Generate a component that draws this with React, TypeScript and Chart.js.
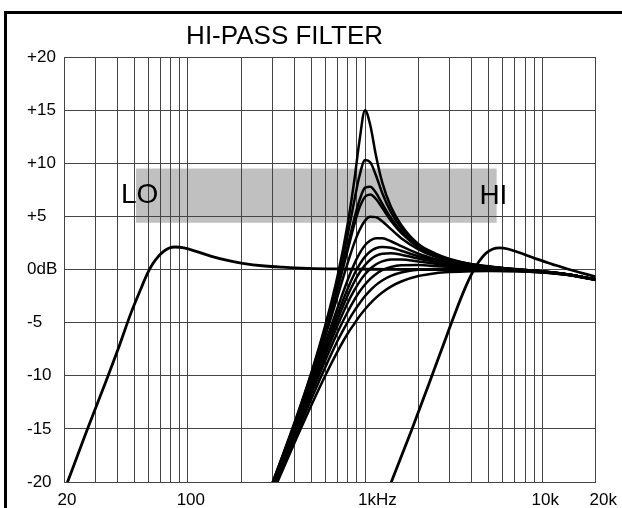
import { useEffect, useRef } from 'react';
import { Chart, registerables } from 'chart.js';

Chart.register(...registerables);

// ---------- text ----------
const TITLE = 'HI-PASS FILTER';
const BAND_TEXT_LO = 'LO';
const BAND_TEXT_HI = 'HI';

// ---------- axes ----------
const X_GRID_FREQ = [20, 30, 40, 50, 60, 70, 80, 90, 100, 200, 300, 400, 500, 600, 700, 800, 900, 1000, 2000, 3000, 4000, 5000, 6000, 7000, 8000, 9000, 10000, 20000];
const X_LABEL_FREQ = [20, 100, 1000, 10000, 20000];
const X_LABEL_TEXT = ['20', '100', '    1kHz', '10k', '  20k'];
const Y_TICK_DB = [-20, -15, -10, -5, 0, 5, 10, 15, 20];
const Y_TICK_TEXT = ['-20', '-15', '-10', '-5', '0dB', '+5', '+10', '+15', '+20'];

// ---------- shaded band (frequency range, dB range) ----------
const BAND_FREQ = [51, 5530];
const BAND_DB = [4.4, 9.5];
const BAND_LABEL_FREQ = [53.5, 5300];

// ---------- LO curve ----------
const LO_FREQ = [17, 20.5, 27, 34, 41, 47.5, 54.5, 59, 63, 68, 73, 78, 85, 95, 109, 136, 170, 204, 272, 340, 476, 680, 950, 1360, 2000, 3000, 5000, 7000, 10000, 14000, 20000];
const LO_DB = [-23.75, -20.4, -15.1, -10.8, -7.2, -4.2, -1.76, -0.42, 0.46, 1.21, 1.7, 2.0, 2.12, 2.04, 1.76, 1.24, 0.83, 0.58, 0.33, 0.22, 0.11, 0.05, 0.03, 0.01, 0.0, 0.0, -0.07, -0.13, -0.26, -0.5, -0.97];

// ---------- HI curve ----------
const HI_FREQ = [1145, 1374, 1832, 2290, 2748, 3206, 3664, 3985, 4259, 4580, 4900, 5267, 5725, 6412, 7328, 9160, 11450, 13740, 20000];
const HI_DB = [-23.75, -20.44, -15.1, -10.8, -7.22, -4.21, -1.78, -0.46, 0.41, 1.15, 1.63, 1.93, 2.03, 1.93, 1.62, 1.02, 0.49, 0.07, -0.69];

// ---------- resonance family around 1 kHz ----------
const MID_FREQ = [250, 300, 400, 500, 600, 700, 800, 870, 930, 1000, 1070, 1150, 1250, 1400, 1600, 2000, 2500, 3000, 4000, 5000, 7000, 10000, 14000, 20000];
const MID_PEAK_15 = [-23.5, -20.1, -14.4, -9.6, -5.1, -0.6, 4.4, 8.4, 12.1, 15.0, 13.6, 10.8, 8.2, 5.9, 4.2, 2.4, 1.5, 1.0, 0.5, 0.3, 0.0, -0.2, -0.5, -0.95];
const MID_PEAK_10 = [-23.6, -20.1, -14.5, -9.7, -5.3, -1.05, 3.35, 6.5, 8.8, 10.3, 10.1, 8.9, 7.2, 5.4, 3.9, 2.3, 1.4, 0.95, 0.5, 0.26, 0.04, -0.18, -0.46, -0.95];
const MID_PEAK_8 = [-23.6, -20.2, -14.6, -9.9, -5.6, -1.6, 2.3, 4.8, 6.5, 7.7, 7.8, 7.25, 6.2, 4.85, 3.6, 2.2, 1.35, 0.9, 0.47, 0.25, 0.03, -0.18, -0.46, -0.95];
const MID_PEAK_7 = [-23.6, -20.2, -14.6, -9.9, -5.7, -1.8, 1.9, 4.25, 5.8, 6.85, 7.07, 6.66, 5.8, 4.6, 3.45, 2.1, 1.3, 0.9, 0.46, 0.25, 0.03, -0.18, -0.46, -0.95];
const MID_PEAK_5 = [-23.6, -20.3, -14.7, -10.2, -6.15, -2.5, 0.67, 2.5, 3.7, 4.6, 4.97, 4.93, 4.55, 3.8, 2.95, 1.9, 1.2, 0.8, 0.41, 0.22, 0.01, -0.19, -0.47, -0.95];
const MID_PEAK_3 = [-23.7, -20.4, -15.0, -10.6, -6.8, -3.6, -0.94, 0.53, 1.5, 2.28, 2.73, 2.95, 2.94, 2.66, 2.2, 1.48, 0.97, 0.66, 0.34, 0.18, -0.01, -0.2, -0.47, -0.95];
const MID_PEAK_2 = [-23.75, -20.4, -15.1, -10.8, -7.2, -4.2, -1.76, -0.42, 0.46, 1.21, 1.7, 2.0, 2.12, 2.04, 1.76, 1.24, 0.83, 0.56, 0.29, 0.15, -0.02, -0.2, -0.48, -0.95];
const MID_PEAK_1_5 = [-23.8, -20.5, -15.2, -11.0, -7.5, -4.7, -2.4, -1.15, -0.31, 0.42, 0.92, 1.28, 1.49, 1.53, 1.39, 1.03, 0.7, 0.48, 0.25, 0.12, -0.04, -0.2, -0.48, -0.95];
const MID_PEAK_1 = [-23.85, -20.6, -15.4, -11.3, -7.95, -5.25, -3.1, -1.95, -1.16, -0.45, 0.07, 0.47, 0.76, 0.94, 0.95, 0.76, 0.54, 0.37, 0.19, 0.08, -0.06, -0.21, -0.48, -0.95];
const MID_PEAK_0_4 = [-23.9, -20.7, -15.6, -11.6, -8.45, -5.9, -3.95, -2.86, -2.1, -1.41, -0.88, -0.44, -0.07, 0.24, 0.4, 0.42, 0.33, 0.23, 0.11, 0.03, -0.08, -0.22, -0.49, -0.96];
const MID_FLAT = [-24.0, -20.9, -15.9, -12.1, -9.1, -6.7, -4.9, -3.9, -3.2, -2.5, -1.96, -1.47, -1.03, -0.6, -0.28, -0.03, 0.05, 0.03, 0.0, -0.04, -0.12, -0.26, -0.5, -0.97];
const MID_LOW = [-24.2, -21.1, -16.3, -12.7, -9.9, -7.7, -6.0, -5.1, -4.4, -3.74, -3.19, -2.67, -2.16, -1.61, -1.13, -0.62, -0.35, -0.24, -0.16, -0.14, -0.17, -0.29, -0.52, -0.97];

const FONT = "'Liberation Sans', Arial, Helvetica, sans-serif";
const GRID = '#444';

const decorPlugin = {
  id: 'decor',
  beforeDraw(chart: any) {
    const { ctx, scales } = chart;
    const x = scales.x;
    const y = scales.y;
    const x0 = x.getPixelForValue(BAND_FREQ[0]);
    const x1 = x.getPixelForValue(BAND_FREQ[1]);
    const y0 = y.getPixelForValue(BAND_DB[1]);
    const y1 = y.getPixelForValue(BAND_DB[0]);
    ctx.save();
    ctx.fillStyle = '#c0c0c0';
    ctx.fillRect(x0, y0, x1 - x0, y1 - y0);
    ctx.restore();
  },
  afterDraw(chart: any) {
    const { ctx, scales, chartArea, width, height } = chart;
    const x = scales.x;
    const y = scales.y;
    ctx.save();
    // outer frame
    ctx.fillStyle = '#000';
    ctx.fillRect(4, 11, 3, height - 11);
    ctx.fillRect(4, 11, width - 4, 3);
    // title
    ctx.font = `26px ${FONT}`;
    ctx.textAlign = 'center';
    ctx.textBaseline = 'alphabetic';
    ctx.fillText(TITLE, chartArea.left + (chartArea.right - chartArea.left) * 0.415, 44);
    // band labels
    const midDb = (BAND_DB[0] + BAND_DB[1]) / 2;
    ctx.font = `28px ${FONT}`;
    ctx.textBaseline = 'middle';
    ctx.fillText(BAND_TEXT_LO, x.getPixelForValue(BAND_LABEL_FREQ[0]), y.getPixelForValue(midDb));
    ctx.fillText(BAND_TEXT_HI, x.getPixelForValue(BAND_LABEL_FREQ[1]), y.getPixelForValue(midDb) + 1);
    ctx.restore();
  },
};

export default function App() {
  const ref = useRef<HTMLCanvasElement>(null);
  useEffect(() => {
    const canvas = ref.current!;
    const toPts = (fs: number[], ds: number[]) => fs.map((f, i) => ({ x: f, y: ds[i] }));
    const mids = [MID_PEAK_15, MID_PEAK_10, MID_PEAK_8, MID_PEAK_7, MID_PEAK_5, MID_PEAK_3, MID_PEAK_2, MID_PEAK_1_5, MID_PEAK_1, MID_PEAK_0_4, MID_FLAT, MID_LOW];
    const datasets: any[] = [
      { data: toPts(LO_FREQ, LO_DB), borderWidth: 2.8 },
      ...mids.map((d) => ({ data: toPts(MID_FREQ, d), borderWidth: 2.5 })),
      { data: toPts(HI_FREQ, HI_DB), borderWidth: 2.8 },
    ].map((d) => ({
      ...d,
      borderColor: '#000',
      backgroundColor: '#000',
      pointRadius: 0,
      fill: false,
      cubicInterpolationMode: 'monotone',
    }));

    const chart = new Chart(canvas, {
      type: 'line',
      data: { datasets },
      options: {
        responsive: false,
        animation: false,
        devicePixelRatio: 1,
        layout: { padding: { left: 27, top: 57, right: 25, bottom: 0 } },
        plugins: {
          legend: { display: false },
          tooltip: { enabled: false },
          title: { display: false },
        },
        scales: {
          x: {
            type: 'logarithmic',
            min: 20,
            max: 20000,
            afterBuildTicks: (s: any) => {
              s.ticks = X_GRID_FREQ.map((v) => ({ value: v }));
            },
            afterFit: (s: any) => {
              s.height = 26;
            },
            grid: { color: GRID, lineWidth: 1, drawTicks: false },
            border: { color: GRID, width: 1 },
            ticks: {
              autoSkip: false,
              maxRotation: 0,
              minRotation: 0,
              padding: 8,
              labelOffset: 3,
              color: '#000',
              font: { family: FONT, size: 17 },
              callback: (v: any) => {
                const i = X_LABEL_FREQ.indexOf(Number(v));
                return i >= 0 ? X_LABEL_TEXT[i] : '';
              },
            },
          },
          y: {
            type: 'linear',
            min: -20,
            max: 20,
            afterFit: (s: any) => {
              s.width = 37;
            },
            grid: { color: GRID, lineWidth: 1, drawTicks: false },
            border: { color: GRID, width: 1 },
            ticks: {
              stepSize: 5,
              crossAlign: 'far',
              color: '#000',
              font: { family: FONT, size: 17 },
              callback: (v: any) => {
                const i = Y_TICK_DB.indexOf(Number(v));
                return i >= 0 ? Y_TICK_TEXT[i] : '';
              },
            },
          },
        },
      } as any,
      plugins: [decorPlugin],
    });
    return () => chart.destroy();
  }, []);

  return (
    <div style={{ position: 'absolute', left: 0, top: 0, width: 622, height: 508, background: '#fff' }}>
      <canvas ref={ref} width={622} height={508} style={{ display: 'block', width: 622, height: 508 }} />
    </div>
  );
}
